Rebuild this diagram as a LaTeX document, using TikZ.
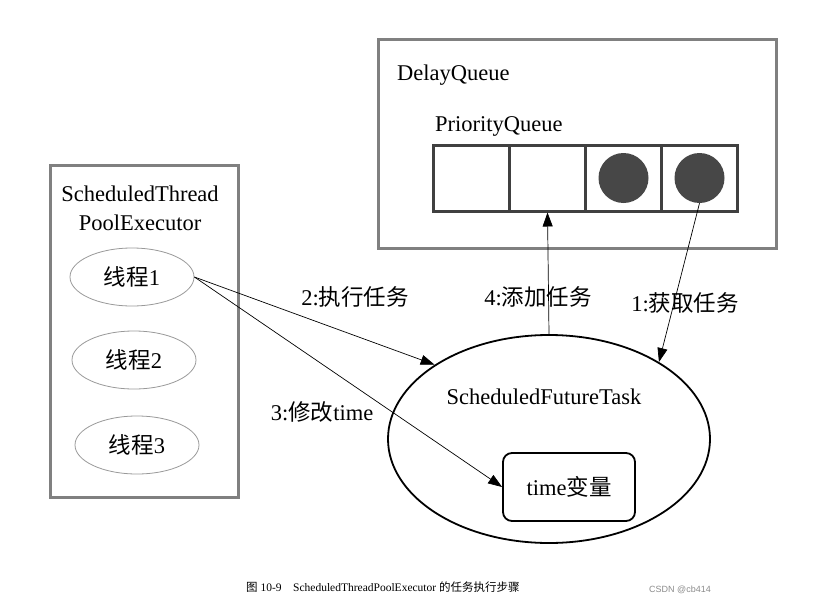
\documentclass[tikz,border=0pt]{standalone}
\usepackage{fontspec}
\setmainfont{Liberation Serif}
\newfontfamily\cjk{Noto Sans CJK SC}
\newfontfamily\wmfont{Liberation Sans}
\usetikzlibrary{arrows.meta,shapes.geometric}
\newcommand{\zh}[1]{{\cjk #1}}

\tikzset{
  txt/.style={font=\fontsize{22.5}{29}\selectfont,inner sep=0pt},
  thread/.style={ellipse,draw=black!40,line width=0.8pt,minimum width=124pt,minimum height=58pt,inner sep=0pt,txt},
  cell/.style={rectangle,draw=black!75,line width=3pt,minimum width=76pt,minimum height=66pt,inner sep=0pt},
  dot/.style={circle,fill=black!72,minimum size=50pt,inner sep=0pt},
  flow/.style={-{Triangle[length=14pt,width=10pt]},line width=0.7pt},
}

\begin{document}
\begin{tikzpicture}[x=1pt,y=-1pt]
  \useasboundingbox[fill=white] (0,0) rectangle (821,607);

  % DelayQueue
  \draw[black!50,line width=3pt] (378,40) rectangle (776,248);
  \node[txt,anchor=west] (dq) at (397,75) {DelayQueue};
  \node[txt,anchor=west] (pq) at (435,126) {PriorityQueue};
  \node[cell] (q1) at (471.5,178) {};
  \node[cell] (q2) at (547.5,178) {};
  \node[cell] (q3) at (623.5,178) {};
  \node[cell] (q4) at (699.5,178) {};
  \node[dot] (dot1) at (q3.center) {};
  \node[dot] (dot2) at (q4.center) {};

  % thread pool
  \draw[black!50,line width=3pt] (50,165) rectangle (238,497);
  \node[txt,align=center] (pool) at (140,208) {ScheduledThread\\PoolExecutor};
  \node[thread] (t1) at (132,277) {\zh{线程}1};
  \node[thread] (t2) at (134,360) {\zh{线程}2};
  \node[thread] (t3) at (137,445) {\zh{线程}3};

  % task
  \node[ellipse,draw,line width=1.8pt,minimum width=322pt,minimum height=208pt,inner sep=0pt] (task) at (549,439) {};
  \node[txt] (tasklbl) at (544,397) {ScheduledFutureTask};
  \node[txt,draw,line width=1.8pt,rounded corners=9pt,minimum width=132pt,minimum height=68pt] (tvar) at (569,487) {time\zh{变量}};

  % steps
  \draw[flow] (dot2.south) -- (task.35);
  \draw[flow] (t1.east) -- (task.147);
  \draw[flow] (t1.east) -- (tvar.west);
  \draw[flow] (task.north) -- (q2.south);

  \node[txt] (s1) at (685,303) {1:\zh{获取任务}};
  \node[txt] (s2) at (355,297) {2:\zh{执行任务}};
  \node[txt] (s3) at (322,412) {3:\zh{修改}time};
  \node[txt] (s4) at (538,297) {4:\zh{添加任务}};

  % caption
  \node[font=\fontsize{11.5}{14}\selectfont,inner sep=0pt,anchor=west] (cap) at (246,587) {\zh{图} 10-9\quad ScheduledThreadPoolExecutor \zh{的任务执行步骤}};
  \node[font=\wmfont\fontsize{9}{11}\selectfont,text=black!45,inner sep=0pt,anchor=west] (wm) at (649,590) {CSDN @cb414};
\end{tikzpicture}
\end{document}
